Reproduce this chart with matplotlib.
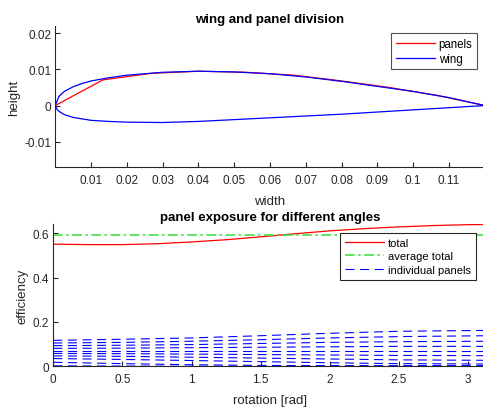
import numpy as np
import matplotlib
matplotlib.use("Agg")
import matplotlib.pyplot as plt

plt.rcParams['font.family'] = ['Liberation Sans', 'DejaVu Sans']
plt.rcParams['lines.scale_dashes'] = False

# ---- wing geometry (chord 0.12) ----
wing_x_upper = [0.12, 0.11, 0.10, 0.09, 0.08, 0.07, 0.06, 0.05, 0.04, 0.03, 0.02, 0.015, 0.01, 0.0075, 0.005, 0.0025, 0.001, 0.0]
wing_y_upper = [0.0, 0.0022, 0.0039, 0.0053, 0.0067, 0.0079, 0.0088, 0.0093, 0.0095, 0.0092, 0.0084, 0.0077, 0.0068, 0.0061, 0.0052, 0.0039, 0.0025, 0.0]
wing_x_lower = [0.0, 0.0005, 0.001, 0.0025, 0.005, 0.01, 0.015, 0.02, 0.03, 0.04, 0.05, 0.06, 0.07, 0.08, 0.09, 0.10, 0.11, 0.12]
wing_y_lower = [0.0, -0.0011, -0.0016, -0.0025, -0.0033, -0.0041, -0.0044, -0.0046, -0.0047, -0.0044, -0.0039, -0.0034, -0.0029, -0.0024, -0.0018, -0.0012, -0.0006, 0.0]

panel_x = [0.0, 0.0133, 0.0267, 0.04, 0.0533, 0.0667, 0.08, 0.0933, 0.1067, 0.12]
panel_y = [0.0, 0.0071, 0.0089, 0.0095, 0.0092, 0.0084, 0.0068, 0.0050, 0.0028, 0.0]

# ---- efficiency vs rotation ----
rot = [0.0, 0.5, 1.0, 1.5, 2.0, 2.5, 3.1416]
total_rot = [0.0, 0.25, 0.5, 0.75, 1.0, 1.25, 1.5, 1.75, 2.0, 2.25, 2.5, 2.75, 3.0, 3.1416]
total_vals = [0.551, 0.549, 0.549, 0.553, 0.561, 0.571, 0.584, 0.598, 0.611, 0.621, 0.629, 0.635, 0.639, 0.640]
average_total = 0.592
panels = [
    [0.117, 0.122, 0.128, 0.138, 0.149, 0.158, 0.162],
    [0.105, 0.108, 0.113, 0.120, 0.128, 0.134, 0.138],
    [0.093, 0.095, 0.098, 0.103, 0.108, 0.111, 0.113],
    [0.081, 0.082, 0.084, 0.086, 0.088, 0.090, 0.090],
    [0.069, 0.069, 0.069, 0.069, 0.069, 0.069, 0.069],
    [0.058, 0.057, 0.055, 0.053, 0.051, 0.049, 0.048],
    [0.047, 0.045, 0.041, 0.037, 0.033, 0.029, 0.027],
    [0.035, 0.031, 0.026, 0.021, 0.016, 0.012, 0.0105],
    [0.018, 0.012, 0.007, 0.004, 0.003, 0.003, 0.003],
    [0.002, 0.001, 0.0, 0.0, 0.0, 0.0, 0.0],
]

TXT = '#262626'
W, H = 483, 410
fig = plt.figure(figsize=(W / 100, H / 100), dpi=100)

def style(ax):
    for s in ['top', 'right']:
        ax.spines[s].set_visible(False)
    for s in ['left', 'bottom']:
        ax.spines[s].set_color(TXT)
        ax.spines[s].set_linewidth(0.8)
    ax.tick_params(direction='in', length=3.5, width=0.8, colors=TXT, labelsize=8.5)
    ax.tick_params(axis='y', pad=3)
    ax.tick_params(axis='x', pad=5)

# top axes
ax1 = fig.add_axes([55.3 / W, 1 - 168.3 / H, (W - 55.3) / W, (168.3 - 26.7) / H])
style(ax1)
ax1.plot(panel_x, panel_y, color='red', lw=0.9, label='panels')
ax1.plot(wing_x_upper + wing_x_lower, wing_y_upper + wing_y_lower, color='blue', lw=0.9, label='wing')
ax1.set_xlim(0, 0.1195)
ax1.set_ylim(-0.0171, 0.0221)
ax1.set_xticks(np.arange(1, 12) / 100)
ax1.set_xticklabels(['0.01', '0.02', '0.03', '0.04', '0.05', '0.06', '0.07', '0.08', '0.09', '0.1', '0.11'])
ax1.set_yticks([-0.01, 0, 0.01, 0.02])
ax1.set_yticklabels(['-0.01', '0', '0.01', '0.02'])
ax1.set_title('wing and panel division', fontsize=9.5, fontweight='bold', color='black', pad=3)
ax1.set_xlabel('width', fontsize=9.5, color=TXT, labelpad=6)
ax1.set_ylabel('height', fontsize=9.5, color=TXT)
ax1.yaxis.set_label_coords((20 - 55.3) / (W - 55.3), 0.5)
leg1 = ax1.legend(loc='upper right', bbox_to_anchor=(477 / W, 1 - 34.3 / H), bbox_transform=fig.transFigure,
                  fontsize=8.3, frameon=True, fancybox=False, borderaxespad=0, handlelength=3.4,
                  handletextpad=0.3, borderpad=0.4, labelspacing=0.25)
leg1.get_frame().set_edgecolor(TXT)
leg1.get_frame().set_linewidth(0.8)

# bottom axes
ax2 = fig.add_axes([53.3 / W, 1 - 367.3 / H, (487.5 - 53.3) / W, (367.3 - 225) / H])
style(ax2)
ax2.plot(total_rot, total_vals, color='red', lw=0.9, label='total')
ax2.plot([0, np.pi], [average_total, average_total], color='#33e033', lw=1.1,
         linestyle=(0, (7, 2.5, 1.8, 2.5)), label='average total')
for i, p in enumerate(panels):
    ax2.plot(rot, p, color='blue', lw=0.8, linestyle=(0, (6.5, 4)),
             label='individual panels' if i == 0 else None)
ax2.set_xlim(0, np.pi)
ax2.set_ylim(0, 0.642)
ax2.set_xticks([0, 0.5, 1, 1.5, 2, 2.5, 3])
ax2.set_xticklabels(['0', '0.5', '1', '1.5', '2', '2.5', '3'])
ax2.set_yticks([0, 0.2, 0.4, 0.6])
ax2.set_yticklabels(['0', '0.2', '0.4', '0.6'])
ax2.set_title('panel exposure for different angles', fontsize=9.5, fontweight='bold', color='black', pad=3)
ax2.set_xlabel('rotation [rad]', fontsize=9.5, color=TXT, labelpad=6)
ax2.set_ylabel('efficiency', fontsize=9.5, color=TXT)
ax2.yaxis.set_label_coords((29 - 53.3) / (487.5 - 53.3), 0.5)
leg2 = ax2.legend(loc='upper right', bbox_to_anchor=(475.7 / W, 1 - 234 / H), bbox_transform=fig.transFigure,
                  fontsize=8.0, frameon=True, fancybox=False, borderaxespad=0, handlelength=3.5,
                  handletextpad=0.3, borderpad=0.45, labelspacing=0.3, framealpha=1)
leg2.get_frame().set_edgecolor(TXT)
leg2.get_frame().set_linewidth(0.8)

fig.savefig('out.png', dpi=100)
